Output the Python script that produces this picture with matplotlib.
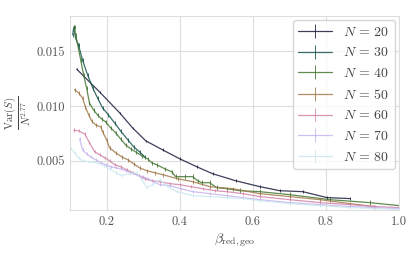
import numpy as np
import matplotlib
matplotlib.use("Agg")
import matplotlib.pyplot as plt
import seaborn as sns

# data
n_values = [20, 30, 40, 50, 60, 70, 80]

beta_20 = [0.118, 0.181, 0.236, 0.271, 0.307, 0.353, 0.400, 0.447, 0.490, 0.553, 0.619, 0.674, 0.737, 0.803, 0.866]
var_20 = [0.01336, 0.01127, 0.00936, 0.0080, 0.00682, 0.0060, 0.00518, 0.00445, 0.00382, 0.00318, 0.00264, 0.00227, 0.00218, 0.00164, 0.00155]

beta_30 = [0.107, 0.110, 0.115, 0.123, 0.134, 0.148, 0.162, 0.175, 0.189, 0.205, 0.222, 0.238, 0.258, 0.274, 0.290, 0.304]
var_30 = [0.01650, 0.01720, 0.01618, 0.01555, 0.01418, 0.01282, 0.01164, 0.01073, 0.00982, 0.00918, 0.00845, 0.00773, 0.00691, 0.00627, 0.00582, 0.00536]

beta_40 = [0.112, 0.115, 0.121, 0.129, 0.137, 0.145, 0.153, 0.164, 0.175, 0.186, 0.197, 0.211, 0.225, 0.238, 0.252,
           0.266, 0.279, 0.296, 0.312, 0.323, 0.337, 0.359, 0.378, 0.389, 0.414, 0.436, 0.449, 0.460, 0.482, 0.501,
           0.529, 0.564, 0.619, 0.701, 0.811, 0.921, 1.0]
var_40 = [0.01718, 0.01645, 0.01555, 0.01418, 0.01282, 0.01164, 0.01027, 0.00964, 0.00918, 0.00882, 0.00855, 0.0080, 0.00755, 0.0070, 0.00645,
          0.00609, 0.00582, 0.00545, 0.00518, 0.00482, 0.00464, 0.00427, 0.0040, 0.00355, 0.00355, 0.00355, 0.00318, 0.0030, 0.0030, 0.00255,
          0.00245, 0.00227, 0.00218, 0.00191, 0.00145, 0.00118, 0.00091]

beta_50 = [0.112, 0.123, 0.134, 0.142, 0.151, 0.159, 0.170, 0.184, 0.189, 0.200, 0.208, 0.225, 0.241, 0.258, 0.274,
           0.290, 0.310, 0.332, 0.353, 0.395, 0.436, 0.482, 0.545, 0.619, 0.701, 0.784, 0.866, 0.932]
var_50 = [0.0115, 0.0112, 0.01073, 0.00991, 0.00918, 0.00864, 0.00827, 0.00809, 0.00764, 0.00691, 0.00618, 0.00573, 0.00536, 0.00509, 0.00473,
          0.00436, 0.00409, 0.00391, 0.00373, 0.00336, 0.00309, 0.00264, 0.00245, 0.0020, 0.00173, 0.00145, 0.00109, 0.00082]

beta_60 = [0.110, 0.123, 0.140, 0.153, 0.167, 0.181, 0.195, 0.208, 0.222, 0.238, 0.255, 0.271, 0.288, 0.304, 0.323,
           0.345, 0.373, 0.400, 0.430, 0.463, 0.496, 0.529, 0.573, 0.619, 0.701, 0.784, 0.866, 0.934, 1.0]
var_60 = [0.0078, 0.00773, 0.00745, 0.00664, 0.00582, 0.00555, 0.00527, 0.0050, 0.00464, 0.00445, 0.00418, 0.00391, 0.00364, 0.00336, 0.00318,
          0.00309, 0.00291, 0.00282, 0.00264, 0.00245, 0.00227, 0.00218, 0.0020, 0.00173, 0.00145, 0.00118, 0.0010, 0.00082, 0.00073]

beta_70 = [0.126, 0.134, 0.145, 0.156, 0.170, 0.184, 0.197, 0.211, 0.225, 0.238, 0.252, 0.266, 0.282, 0.299, 0.312,
           0.329, 0.345, 0.373, 0.403, 0.436, 0.482, 0.529, 0.573, 0.619, 0.701, 0.784, 0.866, 1.0]
var_70 = [0.0070, 0.0060, 0.00564, 0.00536, 0.00509, 0.00482, 0.00464, 0.00445, 0.00436, 0.00427, 0.00409, 0.00391, 0.00373, 0.00355, 0.00336,
          0.00309, 0.00282, 0.00273, 0.00245, 0.00218, 0.0020, 0.00182, 0.00164, 0.00145, 0.00118, 0.0010, 0.00082, 0.00064]

beta_80 = [0.101, 0.112, 0.123, 0.134, 0.153, 0.173, 0.192, 0.208, 0.225, 0.241, 0.263, 0.282, 0.296, 0.310, 0.326,
           0.345, 0.364, 0.392, 0.436, 0.482, 0.529, 0.573, 0.619, 0.701, 0.784, 0.866, 1.0]
var_80 = [0.00618, 0.00573, 0.00527, 0.0050, 0.00491, 0.00482, 0.00455, 0.00427, 0.00391, 0.00364, 0.00382, 0.00391, 0.00327, 0.00255, 0.00282,
          0.00327, 0.00273, 0.00218, 0.00182, 0.00173, 0.00164, 0.00155, 0.00136, 0.00109, 0.00091, 0.00073, 0.00055]

# rough size of the error bars per curve
err_sizes = [0.00012, 0.0002, 0.0002, 0.00018, 0.00015, 0.00015, 0.00012]

betas = [beta_20, beta_30, beta_40, beta_50, beta_60, beta_70, beta_80]
variances = [var_20, var_30, var_40, var_50, var_60, var_70, var_80]

sns.set_style("whitegrid")
plt.rcParams['font.family'] = 'serif'
plt.rcParams['font.serif'] = ['cmr10', 'DejaVu Serif']
plt.rcParams['mathtext.fontset'] = 'cm'
plt.rcParams['axes.unicode_minus'] = False
plt.rcParams['axes.formatter.use_mathtext'] = True

colors = sns.color_palette("cubehelix", len(n_values))

fig = plt.figure(figsize=(4.15, 2.6), dpi=100)
ax = fig.add_axes([0.169, 0.192, 0.792, 0.746])

for n, b, v, e, c in zip(n_values, betas, variances, err_sizes, colors):
    ax.errorbar(b, v, yerr=e, color=c, lw=0.9, elinewidth=0.7, alpha=0.85,
                label=r'$N\,=\,%d$' % n)

ax.set_xlim(0.1, 1.0)
ax.set_ylim(0.0005, 0.0182)
ax.set_xticks([0.2, 0.4, 0.6, 0.8, 1.0])
ax.set_yticks([0.005, 0.010, 0.015])
ax.set_yticklabels(['0.005', '0.010', '0.015'])
ax.set_xticklabels(['0.2', '0.4', '0.6', '0.8', '1.0'])
ax.tick_params(labelsize=9, length=0, pad=4, labelcolor='#555555')
for s in ax.spines.values():
    s.set_color('#dddddd')
ax.grid(color='#dddddd', lw=0.8)

ax.set_xlabel(r'$\beta_{\mathrm{red,geo}}$', fontsize=10, labelpad=3, color='#444444')
ax.set_ylabel(r'$\frac{\mathrm{Var}(S)}{N^{2.77}}$', fontsize=11, labelpad=2, color='#444444')

leg = ax.legend(loc='upper right', fontsize=10, frameon=True, borderaxespad=0.3,
                handlelength=2.4, labelspacing=0.55)
for t in leg.get_texts():
    t.set_color('#444444')

fig.savefig("out.png", dpi=100)
